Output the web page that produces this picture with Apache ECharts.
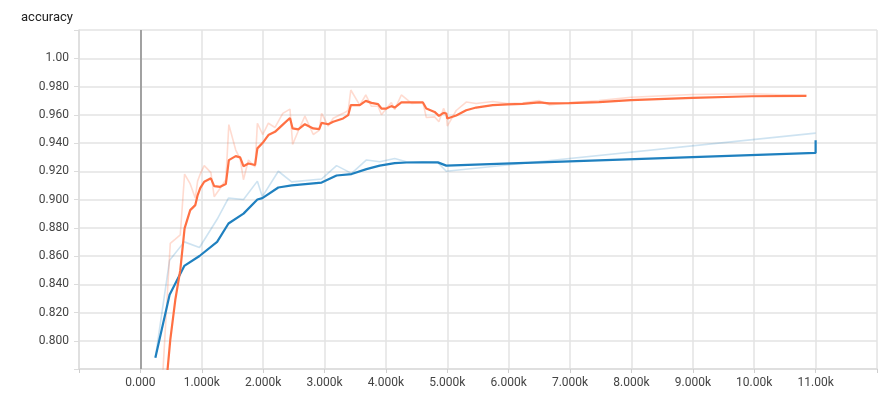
<!DOCTYPE html>
<html>
<head>
<meta charset="utf-8">
<script src="https://cdn.jsdelivr.net/npm/echarts@6/dist/echarts.min.js"></script>
<style>
html,body{margin:0;padding:0;background:#fff;}
#chart{width:882px;height:394px;}
</style>
</head>
<body>
<div id="chart"></div>
<script>
// ---- data ----
var chartTitle = 'accuracy';

var blueSteps = [244,476,715,963,1250,1435,1680,1906,1987,2247,2465,2952,3196,3440,3683,3899,4143,4333,4600,4846,4983,11000];
var blueRaw   = [0.788,0.857,0.870,0.866,0.886,0.901,0.900,0.913,0.902,0.920,0.9125,0.9145,0.924,0.9185,0.928,0.9267,0.929,0.9267,0.9265,0.926,0.920,0.947];
var blueSmoothSteps = [244,476,715,963,1250,1435,1680,1906,1987,2247,2465,2952,3196,3440,3683,3899,4143,4333,4600,4846,4983,11000,11000];
var blueSmooth      = [0.788,0.8325,0.853,0.860,0.870,0.883,0.890,0.900,0.901,0.9085,0.910,0.912,0.917,0.918,0.9215,0.924,0.9257,0.9262,0.9263,0.9263,0.924,0.933,0.942];

var orangeSteps = [244,487,569,650,720,812,894,932,975,1040,1149,1202,1300,1392,1441,1553,1625,1679,1760,1868,1906,1993,2085,2193,2320,2437,2480,2572,2680,2816,2913,2952,3060,3141,3303,3385,3428,3574,3672,3764,3872,3927,4008,4089,4143,4251,4420,4603,4658,4793,4863,4939,4983,5000,5145,5308,5470,5740,5984,6227,6499,6660,6986,7470,7990,8990,9960,10850];
var orangeSmooth = [0.685,0.8006,0.829,0.850,0.8796,0.8925,0.896,0.903,0.908,0.9126,0.915,0.9095,0.909,0.9109,0.9279,0.9307,0.9298,0.9236,0.9255,0.9244,0.9362,0.9401,0.9456,0.9479,0.953,0.9577,0.9503,0.9496,0.9533,0.9503,0.9498,0.9543,0.9533,0.955,0.9574,0.9597,0.9668,0.9668,0.9698,0.9684,0.9675,0.9644,0.9644,0.9661,0.9651,0.9687,0.9687,0.9687,0.9644,0.962,0.9592,0.9613,0.9609,0.9574,0.9595,0.9632,0.9651,0.9668,0.9673,0.9677,0.9687,0.968,0.9682,0.9689,0.9703,0.9719,0.9731,0.9733];
var orangeRaw = [0.685,0.869,0.872,0.875,0.918,0.911,0.901,0.913,0.918,0.924,0.919,0.902,0.908,0.914,0.953,0.935,0.929,0.914,0.928,0.923,0.954,0.946,0.954,0.951,0.961,0.964,0.939,0.9485,0.959,0.946,0.949,0.961,0.952,0.9575,0.961,0.963,0.9775,0.9668,0.974,0.966,0.966,0.960,0.9644,0.9686,0.9636,0.974,0.968,0.9687,0.958,0.9585,0.955,0.9645,0.960,0.952,0.963,0.969,0.968,0.9694,0.968,0.9683,0.970,0.967,0.9685,0.970,0.9724,0.9743,0.9749,0.9736];

var xMin = -1000, xMax = 12000, xStep = 1000;
var yMin = 0.78, yMax = 1.02, yStep = 0.02;

// ---- build ----
function pairs(xs, ys){ return xs.map(function(x,i){ return [x, ys[i]]; }); }

var ORANGE = '#ff7043';
var BLUE = '#1f80bf';

var chart = echarts.init(document.getElementById('chart'), null, {renderer:'canvas'});
chart.setOption({
  animation: false,
  backgroundColor: '#fff',
  title: {
    text: chartTitle, left: 16, top: 6,
    textStyle: {fontSize: 13, fontWeight: 'normal', color: '#212121', fontFamily: 'Roboto, sans-serif'}
  },
  grid: {left: 79, right: 5, top: 30, bottom: 25, containLabel: false},
  xAxis: {
    type: 'value', min: xMin, max: xMax, interval: xStep,
    axisLine: {show: true, lineStyle: {color: '#dcdcdc', width: 1.5}},
    axisTick: {show: true, length: 4, lineStyle: {color: '#cfcfcf'}},
    splitLine: {show: true, lineStyle: {color: '#e3e3e3', width: 1.5}},
    axisLabel: {
      color: '#444', fontSize: 12, margin: 8, fontFamily: 'Roboto, sans-serif',
      formatter: function(v){
        if (v < 0 || v > 11000) return '';
        if (v === 0) return '0.000';
        var k = v/1000;
        return (k >= 10 ? k.toFixed(2) : k.toFixed(3)) + 'k';
      }
    }
  },
  yAxis: {
    type: 'value', min: yMin, max: yMax, interval: yStep,
    axisLine: {show: true, onZero: false, lineStyle: {color: '#dcdcdc', width: 1.5}},
    axisTick: {show: true, length: 5, lineStyle: {color: '#dcdcdc'}},
    splitLine: {show: true, lineStyle: {color: '#e3e3e3', width: 1.5}},
    axisLabel: {
      color: '#444', fontSize: 12, margin: 10, fontFamily: 'Roboto, sans-serif',
      formatter: function(v){
        var r = Math.round(v*1000)/1000;
        if (r < 0.79 || r > 1.01) return '';
        if (r === 1) return '1.00';
        return r.toFixed(3);
      }
    }
  },
  series: [
    {
      type: 'line', data: pairs(blueSteps, blueRaw), showSymbol: false, symbol: 'none',
      lineStyle: {color: BLUE, width: 1.6, opacity: 0.22}, silent: true,
      markLine: {
        silent: true, symbol: 'none', label: {show: false},
        lineStyle: {color: '#9a9a9a', width: 1.8, type: 'solid'},
        data: [{xAxis: 0}]
      }
    },
    {
      type: 'line', data: pairs(orangeSteps, orangeRaw), showSymbol: false, symbol: 'none',
      lineStyle: {color: ORANGE, width: 1.6, opacity: 0.25}, silent: true
    },
    {
      type: 'line', data: pairs(blueSmoothSteps, blueSmooth), showSymbol: false, symbol: 'none',
      lineStyle: {color: BLUE, width: 2.2}, silent: true
    },
    {
      type: 'line', data: pairs(orangeSteps, orangeSmooth), showSymbol: false, symbol: 'none',
      lineStyle: {color: ORANGE, width: 2.2}, silent: true
    }
  ]
});
</script>
</body>
</html>
